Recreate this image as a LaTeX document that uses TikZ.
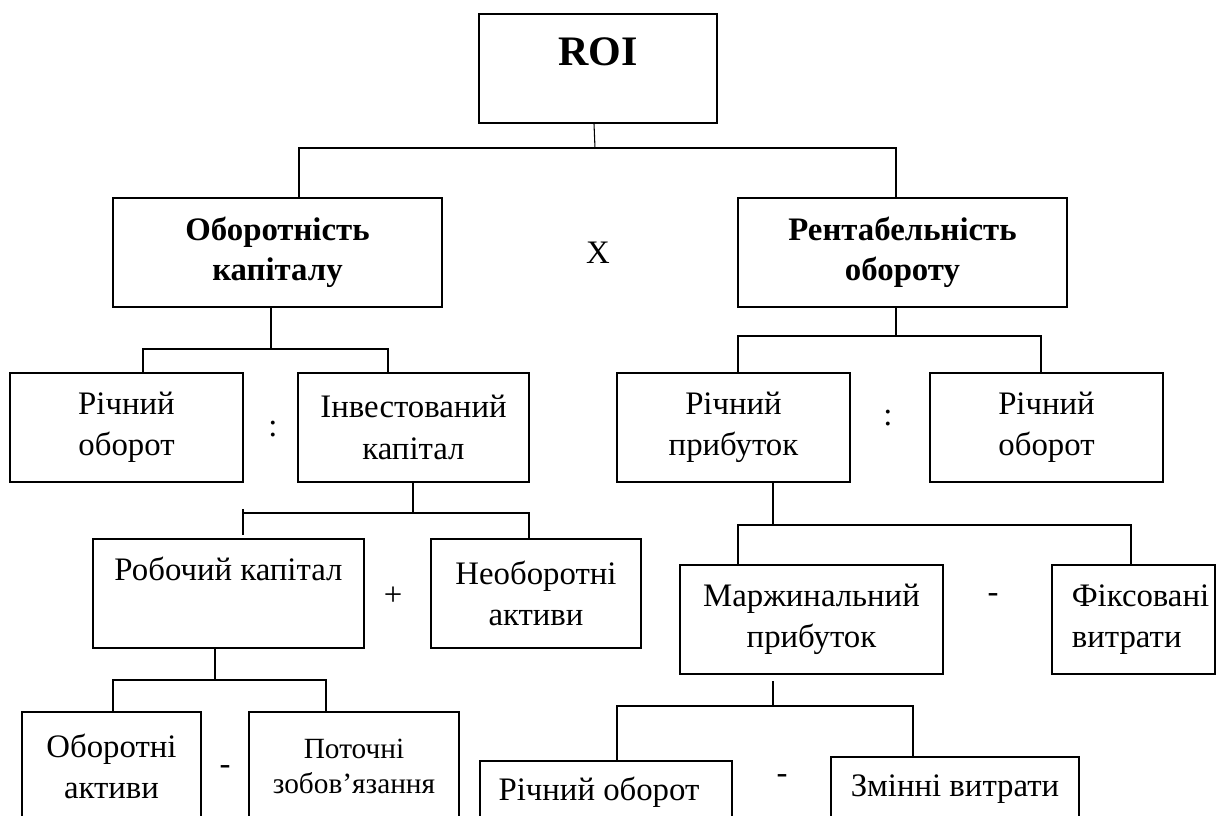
\documentclass[tikz,border=0pt]{standalone}
\usepackage{fontspec}
\setmainfont{Liberation Serif}
\begin{document}
\begin{tikzpicture}[x=0.75pt,y=-0.75pt,
  box/.style={draw, line width=1pt, inner sep=0pt, align=center, minimum height=81.75pt,
              font=\fontsize{24.6pt}{31pt}\selectfont},
  bbox/.style={box, font=\fontsize{24.6pt}{30pt}\selectfont\bfseries},
  conn/.style={line width=0.8pt},
  op/.style={inner sep=0pt, anchor=base, font=\fontsize{24.6pt}{30pt}\selectfont}]
\useasboundingbox (0,0) rectangle (1229,816);
\clip (0,0) rectangle (1229,816);

% boxes
\node[box, minimum width=178.5pt, font=\fontsize{31.5pt}{36pt}\selectfont\bfseries] (roi) at (598,68.5) {\smash{\raisebox{1.9pt}{ROI}}};
\node[bbox, minimum width=246.75pt] (ok) at (277.5,252.5) {Оборотність\\капіталу};
\node[bbox, minimum width=246.75pt] (ro) at (902.5,252.5) {Рентабельність\\обороту};

\node[box, minimum width=174.75pt] (ro1) at (126.5,427.5) {Річний\\оборот};
\node[box, minimum width=173.25pt] (ik) at (413.5,427.5) {Інвестований\\капітал};
\node[box, minimum width=174.75pt] (rp) at (733.5,427.5) {Річний\\прибуток};
\node[box, minimum width=174.75pt] (ro2) at (1046.5,427.5) {Річний\\оборот};

\node[box, minimum width=203.25pt] (rk) at (228.5,593.5) {\smash{\raisebox{9.4pt}{Робочий капітал}}};
\node[box, minimum width=157.5pt] (na) at (536,593.5) {Необоротні\\активи};
\node[box, minimum width=197.25pt] (mp) at (811.5,619.5) {Маржинальний\\прибуток};
\node[box, minimum width=122.25pt, align=left] (fv) at (1133.5,619.5) {\hspace*{10.5pt}Фіксовані\\\hspace*{10.5pt}витрати};

\node[box, minimum width=134.25pt] (oa) at (111.5,766.5) {Оборотні\\активи};
\node[box, minimum width=157.5pt, font=\fontsize{22pt}{26.5pt}\selectfont] (pz) at (354,766.5) {Поточні\\зобов’язання};
\node[box, minimum width=189pt] (ro3) at (606,815.5) {\smash{\raisebox{10.9pt}{Річний оборот\hspace*{10.5pt}}}};
\node[box, minimum width=186pt] (zv) at (955,811.5) {\smash{\raisebox{10.9pt}{Змінні витрати}}};

% operators
\node[op] (opx) at (598,264) {X};
\node[op] (op1) at (273,437) {:};
\node[op] (op2) at (888,426) {:};
\node[op] (op3) at (393,605) {+};
\node[op] (op4) at (225,774) {-};
\node[op] (op5) at (993,602) {-};
\node[op] (op6) at (782,783) {-};

% connectors
\draw[conn] (roi.south -| 594,0) -- (595,148) coordinate (j1);
\draw[conn] (ok.north -| 299,0) |- (j1) -| (ro.north -| 896,0);

\draw[conn] (ok.south -| 271,0) -- (271,349) coordinate (j2);
\draw[conn] (ro1.north -| 143,0) |- (j2) -| (ik.north -| 388,0);

\draw[conn] (ro.south -| 896,0) -- (896,336) coordinate (j3);
\draw[conn] (rp.north -| 738,0) |- (j3) -| (ro2.north -| 1041,0);

\draw[conn] (ik.south -| 413,0) -- (413,513) coordinate (j4);
\coordinate (t1) at (243,509);
\coordinate (t2) at (243,535);
\draw[conn] (t1) -- (t2);
\draw[conn] (t1 |- j4) -- (j4) -| (na.north -| 529,0);

\draw[conn] (rp.south -| 773,0) -- (773,525) coordinate (j5);
\draw[conn] (mp.north -| 738,0) |- (j5) -| (fv.north -| 1131,0);

\draw[conn] (rk.south -| 215,0) -- (215,680) coordinate (j6);
\draw[conn] (oa.north -| 113,0) |- (j6) -| (pz.north -| 326,0);

\coordinate (m1) at (773,681);
\draw[conn] (m1) -- (773,706) coordinate (j7);
\draw[conn] (ro3.north -| 617,0) |- (j7) -| (zv.north -| 913,0);
\end{tikzpicture}
\end{document}
